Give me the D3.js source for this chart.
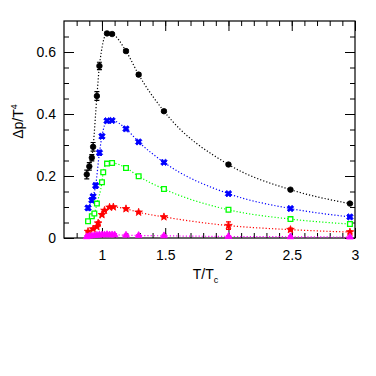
<!DOCTYPE html>
<html>
<head>
<meta charset="utf-8">
<script src="https://cdn.jsdelivr.net/npm/d3@7"></script>
<style>
  body { margin: 0; background: #fff; }
  text { font-family: "Liberation Sans", Arial, sans-serif; }
</style>
</head>
<body>
<div id="chart"></div>
<script>
// data: T/Tc, delta p / T^4 and error
var tBlack = [0.88, 0.90, 0.92, 0.93, 0.96, 0.98, 1.04, 1.08, 1.19, 1.29, 1.49, 2.0, 2.49, 2.96];
var pBlack = [0.205, 0.231, 0.259, 0.294, 0.458, 0.555, 0.660, 0.658, 0.603, 0.527, 0.409, 0.237, 0.156, 0.111];
var eBlack = [0.014, 0.012, 0.010, 0.014, 0.014, 0.012, 0.004, 0.004, 0.005, 0.005, 0.004, 0.004, 0.003, 0.003];

var tBlue = [0.89, 0.92, 0.93, 0.95, 0.98, 1.00, 1.04, 1.08, 1.19, 1.29, 1.49, 2.0, 2.49, 2.96];
var pBlue = [0.097, 0.122, 0.134, 0.169, 0.275, 0.328, 0.378, 0.379, 0.352, 0.310, 0.244, 0.143, 0.095, 0.068];
var eBlue = [0.006, 0.006, 0.006, 0.008, 0.008, 0.006, 0.004, 0.004, 0.004, 0.004, 0.003, 0.003, 0.003, 0.003];

var tGreen = [0.89, 0.92, 0.94, 0.96, 1.00, 1.01, 1.04, 1.08, 1.19, 1.29, 1.49, 2.0, 2.49, 2.96];
var pGreen = [0.054, 0.070, 0.079, 0.111, 0.180, 0.212, 0.240, 0.242, 0.226, 0.199, 0.158, 0.091, 0.061, 0.045];
var eGreen = [0.004, 0.004, 0.004, 0.005, 0.005, 0.004, 0.003, 0.003, 0.003, 0.003, 0.003, 0.003, 0.002, 0.002];

var tRed = [0.89, 0.93, 0.96, 0.97, 1.00, 1.02, 1.06, 1.09, 1.19, 1.29, 1.49, 2.0, 2.49, 2.96];
var pRed = [0.021, 0.029, 0.036, 0.048, 0.075, 0.089, 0.099, 0.100, 0.094, 0.083, 0.068, 0.040, 0.027, 0.019];
var eRed = [0.003, 0.003, 0.003, 0.004, 0.004, 0.003, 0.003, 0.003, 0.003, 0.003, 0.003, 0.012, 0.005, 0.004];

var tMag = [0.88, 0.90, 0.92, 0.94, 0.96, 0.98, 1.00, 1.02, 1.04, 1.06, 1.08, 1.10, 1.19, 1.29, 1.49, 2.0, 2.49, 2.96];
var pMag = [0.004, 0.006, 0.007, 0.008, 0.009, 0.010, 0.010, 0.010, 0.011, 0.010, 0.010, 0.010, 0.009, 0.008, 0.007, 0.005, 0.004, 0.003];
var eMag = [0.004, 0.004, 0.004, 0.004, 0.004, 0.004, 0.004, 0.004, 0.004, 0.004, 0.004, 0.004, 0.003, 0.003, 0.003, 0.003, 0.003, 0.003];

var xMajor = [1, 1.5, 2, 2.5, 3];
var xMajorLabels = ["1", "1.5", "2", "2.5", "3"];
var yMajor = [0, 0.2, 0.4, 0.6];
var yMajorLabels = ["0", "0.2", "0.4", "0.6"];

var series = [
  {t: tBlack, p: pBlack, e: eBlack, color: "#000000", symbol: "circle", size: 24},
  {t: tBlue, p: pBlue, e: eBlue, color: "#0000ff", symbol: "cross", size: 26},
  {t: tGreen, p: pGreen, e: eGreen, color: "#00ff00", symbol: "square", size: 22},
  {t: tRed, p: pRed, e: eRed, color: "#ff0000", symbol: "star", size: 18},
  {t: tMag, p: pMag, e: eMag, color: "#ff00ff", symbol: "triangle", size: 20}
];

var margin = {top: 21, right: 21, bottom: 138, left: 64},
    width = 376 - margin.left - margin.right,
    height = 376 - margin.top - margin.bottom;

var x = d3.scaleLinear().domain([0.7, 3]).range([0, width]);
var y = d3.scaleLinear().domain([0, 0.7]).range([height, 0]);

var svg = d3.select("#chart").append("svg")
    .attr("width", 376)
    .attr("height", 376)
  .append("g")
    .attr("transform", "translate(" + margin.left + "," + margin.top + ")");

// minor tick values
var xMinor = d3.range(8, 30).map(function(d) { return d / 10; });
var yMinor = d3.range(1, 14).map(function(d) { return d * 0.05; });

function styleAxis(g) {
  g.select(".domain").remove();
  g.selectAll("line").attr("stroke", "#000").attr("stroke-width", 1);
  g.selectAll("text").attr("font-size", 14).attr("fill", "#000");
}

// bottom
svg.append("g").attr("transform", "translate(0," + height + ")")
    .call(d3.axisBottom(x).tickValues(xMinor).tickSize(-5).tickFormat(""))
    .call(styleAxis);
svg.append("g").attr("transform", "translate(0," + height + ")")
    .call(d3.axisBottom(x).tickValues(xMajor).tickSize(-10).tickPadding(12)
      .tickFormat(function(d, i) { return xMajorLabels[i]; }))
    .call(styleAxis);
// top
svg.append("g")
    .call(d3.axisTop(x).tickValues(xMinor).tickSize(-5).tickFormat(""))
    .call(styleAxis);
svg.append("g")
    .call(d3.axisTop(x).tickValues(xMajor).tickSize(-10).tickFormat(""))
    .call(styleAxis);
// left
svg.append("g")
    .call(d3.axisLeft(y).tickValues(yMinor).tickSize(-5).tickFormat(""))
    .call(styleAxis);
svg.append("g")
    .call(d3.axisLeft(y).tickValues(yMajor).tickSize(-10).tickPadding(8)
      .tickFormat(function(d, i) { return yMajorLabels[i]; }))
    .call(styleAxis);
// right
svg.append("g").attr("transform", "translate(" + width + ",0)")
    .call(d3.axisRight(y).tickValues(yMinor).tickSize(-5).tickFormat(""))
    .call(styleAxis);
svg.append("g").attr("transform", "translate(" + width + ",0)")
    .call(d3.axisRight(y).tickValues(yMajor).tickSize(-10).tickFormat(""))
    .call(styleAxis);

// frame
svg.append("rect")
    .attr("width", width).attr("height", height)
    .attr("fill", "none").attr("stroke", "#000").attr("stroke-width", 1.2);

var symbols = {
  circle: d3.symbolCircle,
  cross: d3.symbolCross,
  square: d3.symbolSquare,
  star: d3.symbolStar,
  triangle: d3.symbolTriangle
};

var line = d3.line()
    .x(function(d) { return x(d[0]); })
    .y(function(d) { return y(d[1]); })
    .curve(d3.curveMonotoneX);

series.forEach(function(s) {
  var pts = s.t.map(function(t, i) { return [t, s.p[i], s.e[i]]; });
  var g = svg.append("g");

  g.append("path")
      .datum(pts)
      .attr("d", line)
      .attr("fill", "none")
      .attr("stroke", s.color)
      .attr("stroke-width", 1.2)
      .attr("stroke-dasharray", "1.2,2");

  // error bars
  g.selectAll(".err")
      .data(pts)
    .enter().append("path")
      .attr("d", function(d) {
        var cx = x(d[0]), y0 = y(d[1] - d[2]), y1 = y(d[1] + d[2]);
        return "M" + cx + "," + y0 + "V" + y1 +
               "M" + (cx - 2.5) + "," + y0 + "H" + (cx + 2.5) +
               "M" + (cx - 2.5) + "," + y1 + "H" + (cx + 2.5);
      })
      .attr("stroke", s.color)
      .attr("stroke-width", 1.2)
      .attr("fill", "none");

  var sym = d3.symbol().type(symbols[s.symbol]).size(s.size);
  g.selectAll(".pt")
      .data(pts)
    .enter().append("path")
      .attr("transform", function(d) {
        var r = s.symbol === "cross" ? 45 : 0;
        return "translate(" + x(d[0]) + "," + y(d[1]) + ") rotate(" + r + ")";
      })
      .attr("d", sym)
      .attr("fill", s.symbol === "square" ? "#fff" : s.color)
      .attr("stroke", s.color)
      .attr("stroke-width", s.symbol === "square" ? 1.3 : 0.8);
});

// axis titles
var ylab = svg.append("text")
    .attr("transform", "translate(-41," + (height / 2 - 8) + ") rotate(-90)")
    .attr("text-anchor", "middle")
    .attr("font-size", 14);
ylab.append("tspan").text("\u0394p/T");
ylab.append("tspan").attr("font-size", 9).attr("dy", -6).text("4");

var xlab = svg.append("text")
    .attr("x", width / 2 - 4)
    .attr("y", height + 41)
    .attr("text-anchor", "middle")
    .attr("font-size", 14);
xlab.append("tspan").text("T/T");
xlab.append("tspan").attr("font-size", 9).attr("dy", 4).text("c");
</script>
</body>
</html>
